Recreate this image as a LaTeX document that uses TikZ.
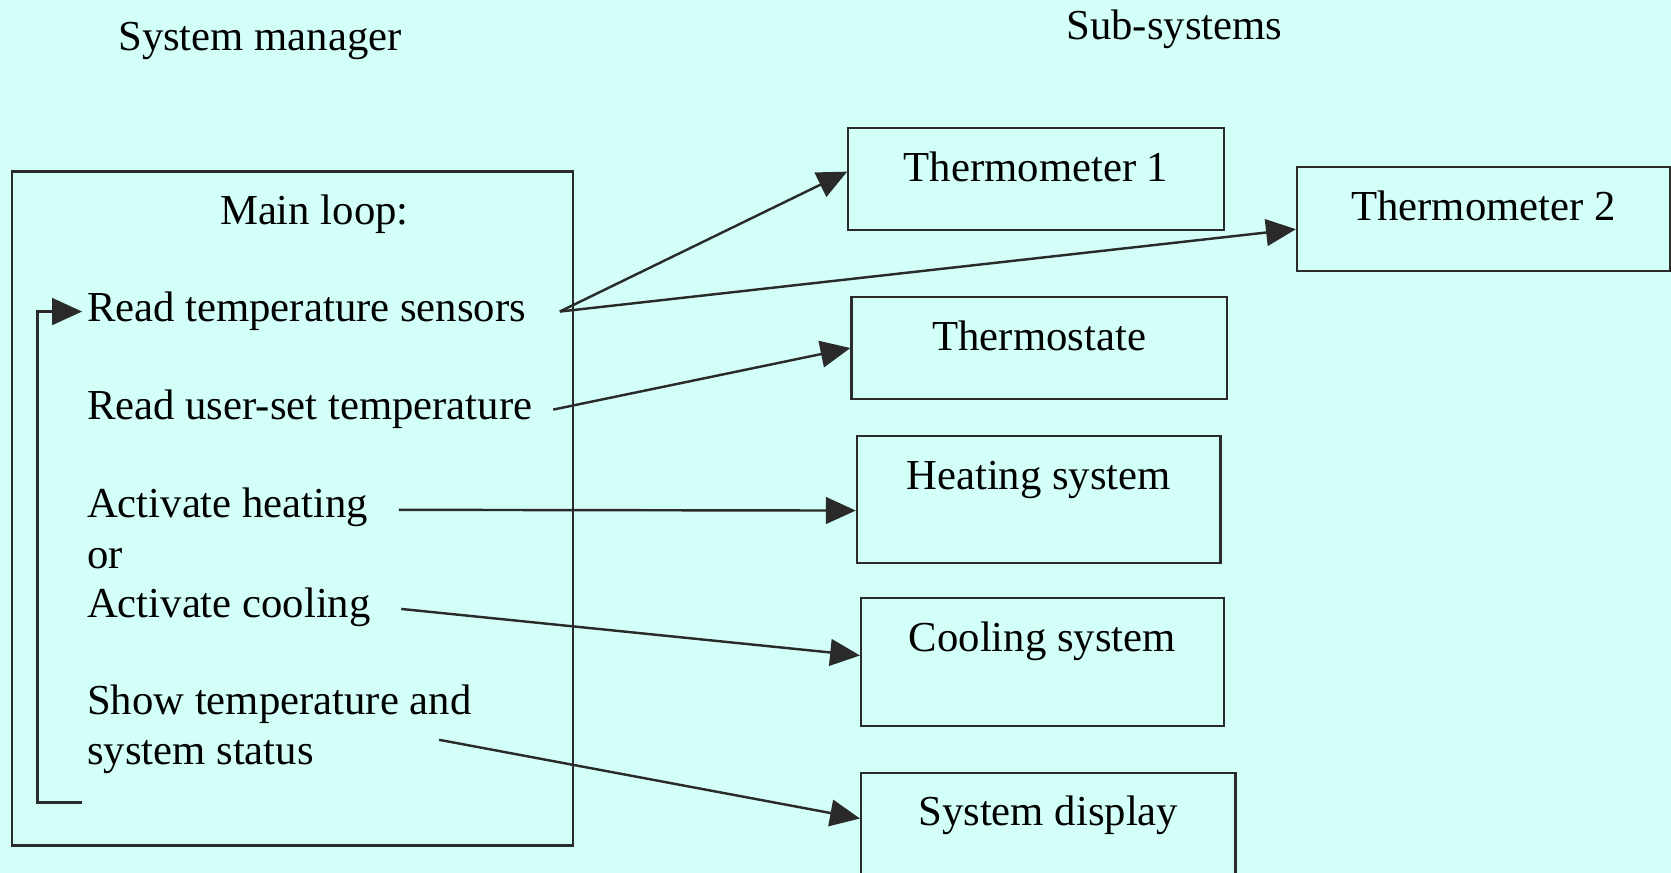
\documentclass[tikz,border=0pt]{standalone}
\usepackage{fontspec}
\setmainfont{Liberation Serif}
\usetikzlibrary{arrows.meta,positioning,calc}
\definecolor{bgcyan}{HTML}{D2FFF8}
\definecolor{linegray}{HTML}{2A2A2A}
\tikzset{
  subsys/.style={rectangle, draw=linegray, line width=0.6pt, inner sep=0pt,
                 anchor=north west, text height=0.5cm, minimum width=#1},
  item/.style={anchor=base west, inner sep=0.04cm, align=left},
  arr/.style={-{Triangle[length=2.8mm,width=2.5mm]}, line width=0.65pt, draw=linegray},
}

\begin{document}
\begin{tikzpicture}[x=0.01cm,y=-0.01cm,font=\fontsize{11.4}{13.2}\selectfont]
    \fill[bgcyan] (0,0) rectangle (1568,819);
    \useasboundingbox (0,0) rectangle (1568,819);
    \node[anchor=base] (mgrtitle) at (244,47)  {System manager};
    \node[anchor=base] (subtitle) at (1102,37) {Sub-systems};
    % system manager
    \node[draw=linegray, line width=0.6pt, anchor=north west, minimum width=5.26cm,
          minimum height=6.32cm] (mgr) at (10,160) {};
    \node[anchor=base] (mainloop) at (295,211) {Main loop:};
    \node[item] (sensors) at (77,302) {Read temperature sensors};
    \node[item] (userset) at (77,394) {Read user-set temperature};
    \node[item] (heat)    at (77,486) {Activate heating};
    \node[item] (orline)  at (77,533) {or};
    \node[item] (cool)    at (77,579) {Activate cooling};
    \node[item] (show)    at (77,717) {Show temperature and\\system status};
    \coordinate (loopend) at (77,753);
    % sub-systems
    \node[subsys=3.52cm, text depth=0.46cm] (th1)  at (795,119)  {Thermometer 1};
    \node[subsys=3.50cm, text depth=0.47cm] (th2)  at (1216,156) {Thermometer 2};
    \node[subsys=3.52cm, text depth=0.45cm] (thst) at (798,278)  {Thermostate};
    \node[subsys=3.41cm, text depth=0.69cm] (heatsys) at (803,408) {Heating system};
    \node[subsys=3.40cm, text depth=0.70cm] (coolsys) at (807,560) {Cooling system};
    \node[subsys=3.51cm, text depth=0.70cm] (disp) at (807,724)  {System display};
    % connectors
    \draw[arr] (loopend) -- ++(-42,0) |- (sensors.west);
    \draw[arr] ([xshift=0.27cm]sensors.east) -- ([yshift=0.07cm]th1.west);
    \draw[arr] ([xshift=0.27cm]sensors.east) -- ([yshift=-0.095cm]th2.west);
    \draw[arr] ([xshift=0.15cm]userset.east) -- (thst.west);
    \draw[arr] ([xshift=0.24cm,yshift=-0.02cm]heat.east) -- ([yshift=-0.105cm]heatsys.west);
    \draw[arr] ([xshift=0.24cm,yshift=-0.02cm]cool.east) -- ([yshift=0.06cm]coolsys.west);
    \draw[arr] ([xshift=-0.35cm,yshift=-0.1cm]show.east) -- ([yshift=0.17cm]disp.west);
\end{tikzpicture}
\end{document}
